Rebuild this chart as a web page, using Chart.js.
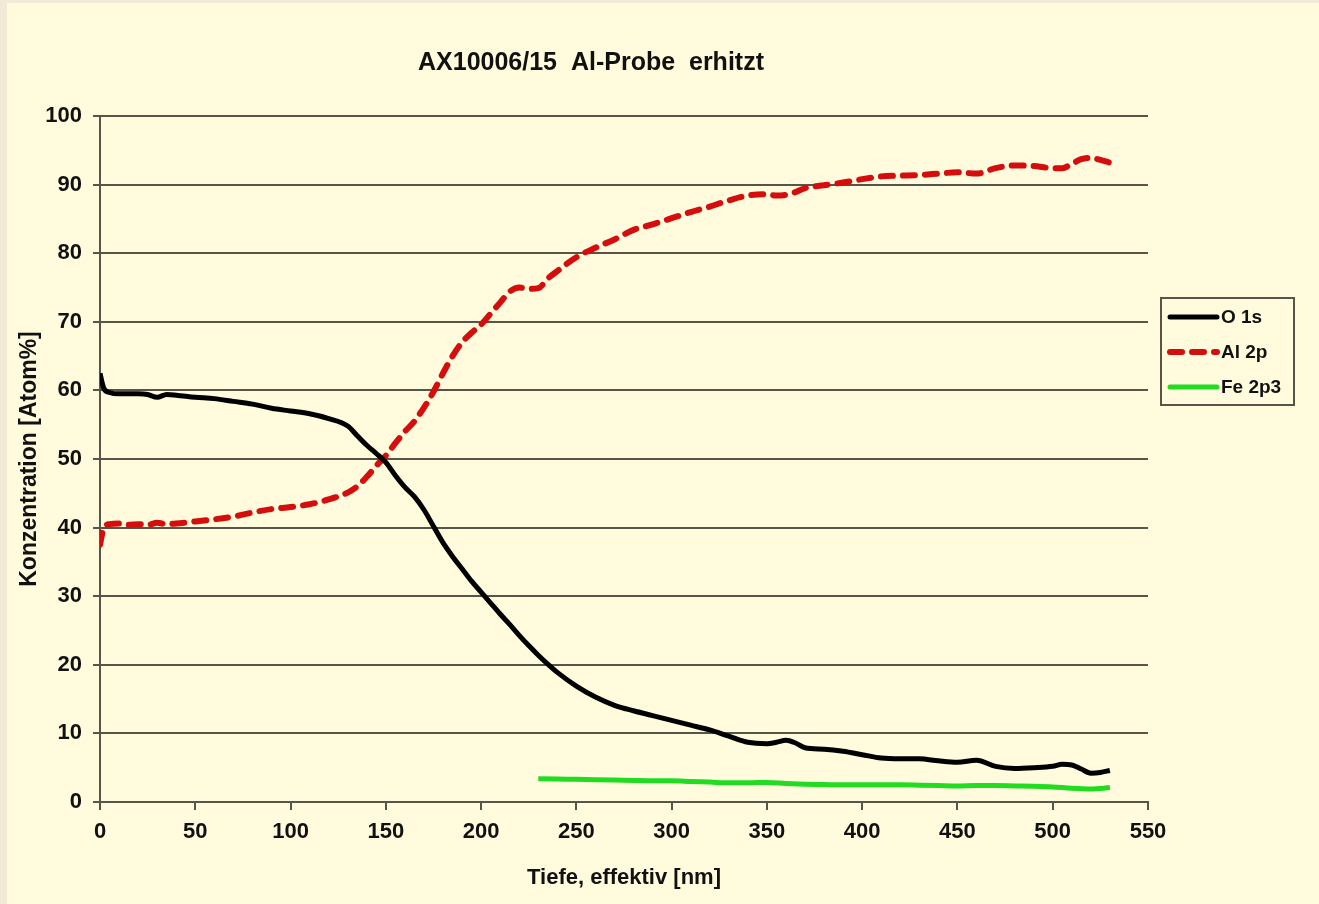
<!DOCTYPE html>
<html>
<head>
<meta charset="utf-8">
<script src="https://cdn.jsdelivr.net/npm/chart.js@4/dist/chart.umd.min.js"></script>
<style>
  html, body { margin: 0; padding: 0; background: #f2ead6; }
  #wrap { width: 1319px; height: 904px; }
</style>
</head>
<body>
<div id="wrap"><canvas id="chart" width="1319" height="904"></canvas></div>
<script>
// Depth profile data
const depth = [0, 2, 5, 10, 15, 20, 25, 30, 35, 40, 50, 60, 70, 80, 90, 100, 110, 120, 130, 135,
  140, 145, 150, 155, 160, 165, 170, 175, 180, 185, 190, 195, 200, 205, 210, 215, 220, 225, 230, 235,
  240, 250, 260, 270, 280, 290, 300, 310, 320, 330, 340, 350, 355, 360, 365, 370, 380, 390, 400, 410,
  420, 430, 440, 450, 460, 470, 480, 490, 500, 505, 510, 515, 520, 525, 530];

const o1s = [62.5, 60.3, 59.7, 59.5, 59.5, 59.5, 59.4, 59.0, 59.4, 59.3, 59.0, 58.8, 58.4, 58.0, 57.4, 57.0, 56.6, 55.9, 54.8, 53.4,
  52.0, 50.8, 49.5, 47.6, 45.9, 44.5, 42.6, 40.2, 37.8, 35.8, 34.0, 32.2, 30.6, 29.0, 27.4, 25.9, 24.3, 22.8, 21.4, 20.1,
  18.9, 16.9, 15.3, 14.1, 13.3, 12.6, 11.9, 11.2, 10.5, 9.6, 8.7, 8.5, 8.7, 9.0, 8.6, 7.9, 7.7, 7.4, 6.9, 6.4,
  6.3, 6.3, 6.0, 5.8, 6.1, 5.2, 4.9, 5.0, 5.2, 5.5, 5.4, 4.8, 4.2, 4.3, 4.6];

const al2p = [37.5, 40.0, 40.5, 40.6, 40.4, 40.5, 40.4, 40.7, 40.5, 40.6, 40.9, 41.2, 41.6, 42.2, 42.7, 43.0, 43.4, 44.1, 45.1, 46.0,
  47.4, 49.0, 50.5, 52.3, 54.0, 55.5, 57.5, 59.8, 62.5, 65.0, 67.0, 68.4, 69.6, 71.2, 72.8, 74.4, 75.0, 74.8, 74.9, 76.3,
  77.4, 79.4, 80.8, 82.0, 83.4, 84.2, 85.1, 86.0, 86.8, 87.7, 88.4, 88.6, 88.4, 88.5, 88.9, 89.5, 89.9, 90.3, 90.8, 91.2,
  91.3, 91.4, 91.6, 91.8, 91.6, 92.4, 92.8, 92.7, 92.4, 92.4, 93.0, 93.7, 93.9, 93.6, 93.2];

const feDepth = [230, 240, 250, 260, 270, 280, 290, 300, 310, 320, 330, 340, 350, 360, 370, 380,
  390, 400, 410, 420, 430, 440, 450, 460, 470, 480, 490, 500, 510, 520, 530];
const fe2p3 = [3.4, 3.35, 3.3, 3.25, 3.2, 3.15, 3.1, 3.1, 3.0, 2.9, 2.8, 2.8, 2.85, 2.7, 2.6, 2.55,
  2.5, 2.5, 2.5, 2.5, 2.45, 2.4, 2.35, 2.4, 2.4, 2.35, 2.3, 2.2, 2.0, 1.9, 2.1];

const seriesNames = ["O 1s", "Al 2p", "Fe 2p3"];
const chartTitle = "AX10006/15  Al-Probe  erhitzt";

const toPoints = (xs, ys) => xs.map((x, i) => ({ x: x, y: ys[i] }));

const FONT = "'Liberation Sans', Arial, sans-serif";
const GRID = "#55554a";

// background, title and boxed legend
const decor = {
  id: "decor",
  beforeDraw(chart) {
    const c = chart.ctx;
    c.save();
    c.fillStyle = "#f2ead6";
    c.fillRect(0, 0, chart.width, chart.height);
    c.fillStyle = "#fffbdc";
    c.fillRect(7, 3, chart.width - 7, chart.height - 3);
    c.restore();
  },
  afterDraw(chart) {
    const c = chart.ctx;
    c.save();
    c.fillStyle = "#111";
    c.font = "bold 25px " + FONT;
    c.textAlign = "center";
    c.textBaseline = "middle";
    c.fillText(chartTitle, 591, 63);

    // legend box
    const bx = 1161, by = 298, bw = 133, bh = 107;
    c.strokeStyle = GRID;
    c.lineWidth = 2;
    c.strokeRect(bx, by, bw, bh);
    c.font = "bold 19px " + FONT;
    c.textAlign = "left";
    const rows = [317, 352, 387];
    chart.data.datasets.forEach((ds, i) => {
      const y = rows[i];
      c.beginPath();
      c.strokeStyle = ds.borderColor;
      c.lineWidth = ds.borderWidth;
      c.lineCap = "round";
      c.setLineDash(ds.borderDash || []);
      c.moveTo(1170, y);
      c.lineTo(1217, y);
      c.stroke();
      c.setLineDash([]);
      c.fillStyle = "#111";
      c.fillText(ds.label, 1221, y + 1);
    });
    c.restore();
  }
};

const ctx = document.getElementById("chart").getContext("2d");
const chart = new Chart(ctx, {
  type: "line",
  data: {
    datasets: [
      {
        label: seriesNames[0],
        data: toPoints(depth, o1s),
        borderColor: "#000000",
        borderWidth: 5,
      },
      {
        label: seriesNames[1],
        data: toPoints(depth, al2p),
        borderColor: "#d50d0d",
        borderWidth: 6,
        borderDash: [12, 10],
        borderCapStyle: "round",
      },
      {
        label: seriesNames[2],
        data: toPoints(feDepth, fe2p3),
        borderColor: "#22dc22",
        borderWidth: 5,
      },
    ],
  },
  plugins: [decor],
  options: {
    responsive: false,
    animation: false,
    layout: { padding: { left: 0, right: 171, top: 116, bottom: 0 } },
    elements: {
      point: { radius: 0 },
      line: { tension: 0.4, cubicInterpolationMode: "monotone", borderJoinStyle: "round" },
    },
    plugins: {
      legend: { display: false },
      tooltip: { enabled: false },
    },
    scales: {
      x: {
        type: "linear",
        min: 0,
        max: 550,
        afterFit: (scale) => { scale.height = 102; },
        ticks: { stepSize: 50, color: "#111", font: { family: FONT, size: 22, weight: "bold" }, padding: 9 },
        grid: { drawOnChartArea: false, drawTicks: true, tickLength: 8, color: GRID, lineWidth: 2 },
        border: { display: true, color: GRID, width: 2 },
        title: {
          display: true,
          text: "Tiefe, effektiv [nm]",
          color: "#111",
          font: { family: FONT, size: 22, weight: "bold" },
          padding: { top: 0, bottom: 13 },
        },
      },
      y: {
        min: 0,
        max: 100,
        afterFit: (scale) => { scale.width = 100; },
        ticks: { stepSize: 10, color: "#111", font: { family: FONT, size: 22, weight: "bold" }, padding: 11 },
        grid: { color: GRID, lineWidth: 2, tickLength: 7 },
        border: { display: true, color: GRID, width: 2 },
        title: {
          display: true,
          text: "Konzentration [Atom%]",
          color: "#111",
          font: { family: FONT, size: 23, weight: "bold" },
          padding: { top: 16, bottom: 0 },
        },
      },
    },
  },
});
</script>
</body>
</html>
